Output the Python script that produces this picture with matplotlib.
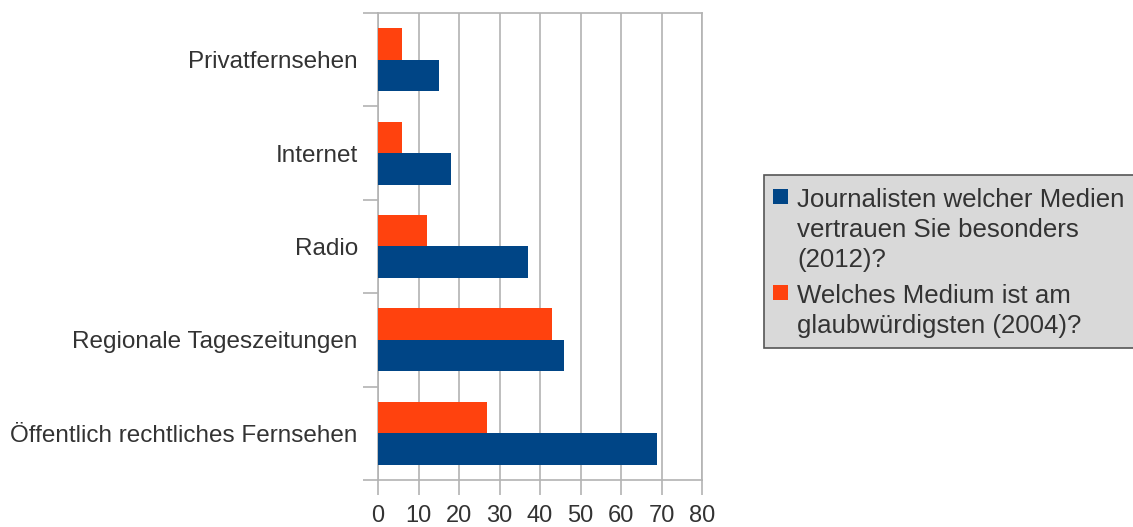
import numpy as np
import matplotlib.pyplot as plt
from matplotlib.patches import Rectangle

# survey categories, listed top to bottom
categories = ["Privatfernsehen", "Internet", "Radio",
              "Regionale Tageszeitungen", "Öffentlich rechtliches Fernsehen"]
trust_2012 = [15, 18, 37, 46, 69]
credible_2004 = [6, 6, 12, 43, 27]
series_lines = [["Journalisten welcher Medien", "vertrauen Sie besonders", "(2012)?"],
                ["Welches Medium ist am", "glaubwürdigsten (2004)?"]]
xticks = [0, 10, 20, 30, 40, 50, 60, 70, 80]

blue = "#004586"
orange = "#ff420e"
grid = "#b3b3b3"
text = "#333333"

plt.rcParams["font.family"] = ["Liberation Sans", "DejaVu Sans"]

W, H = 1133, 527
fig = plt.figure(figsize=(W / 100, H / 100), dpi=100)
ax = fig.add_axes([378 / W, 47 / H, 324 / W, 467 / H])

n = len(categories)
centers = n - 1 - np.arange(n) + 0.5
h = 0.337
ax.barh(centers + h / 2, credible_2004, height=h, color=orange, zorder=3)
ax.barh(centers - h / 2, trust_2012, height=h, color=blue, zorder=3)

ax.set_xlim(0, 80)
ax.set_ylim(0, n)
ax.set_xticks(xticks)
ax.set_xticklabels([str(v) for v in xticks])
ax.set_yticks(np.arange(n + 1))
ax.set_yticklabels([])
ax.set_yticks(centers, minor=True)
ax.set_yticklabels(categories, minor=True)

ax.xaxis.grid(True, color=grid, lw=1.2, zorder=0)
ax.tick_params(axis="x", length=11, width=1.2, color=grid, pad=7,
               labelsize=17, labelcolor=text)
ax.tick_params(axis="y", which="major", length=11, width=1.2, color=grid)
ax.tick_params(axis="y", which="minor", length=0, pad=14.5,
               labelsize=17.5, labelcolor=text)
for side in ["top", "right", "bottom", "left"]:
    ax.spines[side].set_color(grid)
    ax.spines[side].set_linewidth(1.2)

# legend box drawn in pixel coordinates, running off the right edge
def px(x, y):
    return x / W, 1 - y / H

fig.patches.append(Rectangle(px(764, 348), 400 / W, 173 / H, transform=fig.transFigure,
                             facecolor="#d9d9d9", edgecolor="#555555", lw=1.2))
colors = [blue, orange]
first_base = [207, 303]
for color, lines, base in zip(colors, series_lines, first_base):
    fig.patches.append(Rectangle(px(773, base - 3), 15 / W, 15 / H,
                                 transform=fig.transFigure, facecolor=color, lw=0))
    for i, line in enumerate(lines):
        fig.text(*px(797, base + 30 * i), line, fontsize=18.6, color=text,
                 ha="left", va="baseline")

fig.savefig("out.png", dpi=100)
